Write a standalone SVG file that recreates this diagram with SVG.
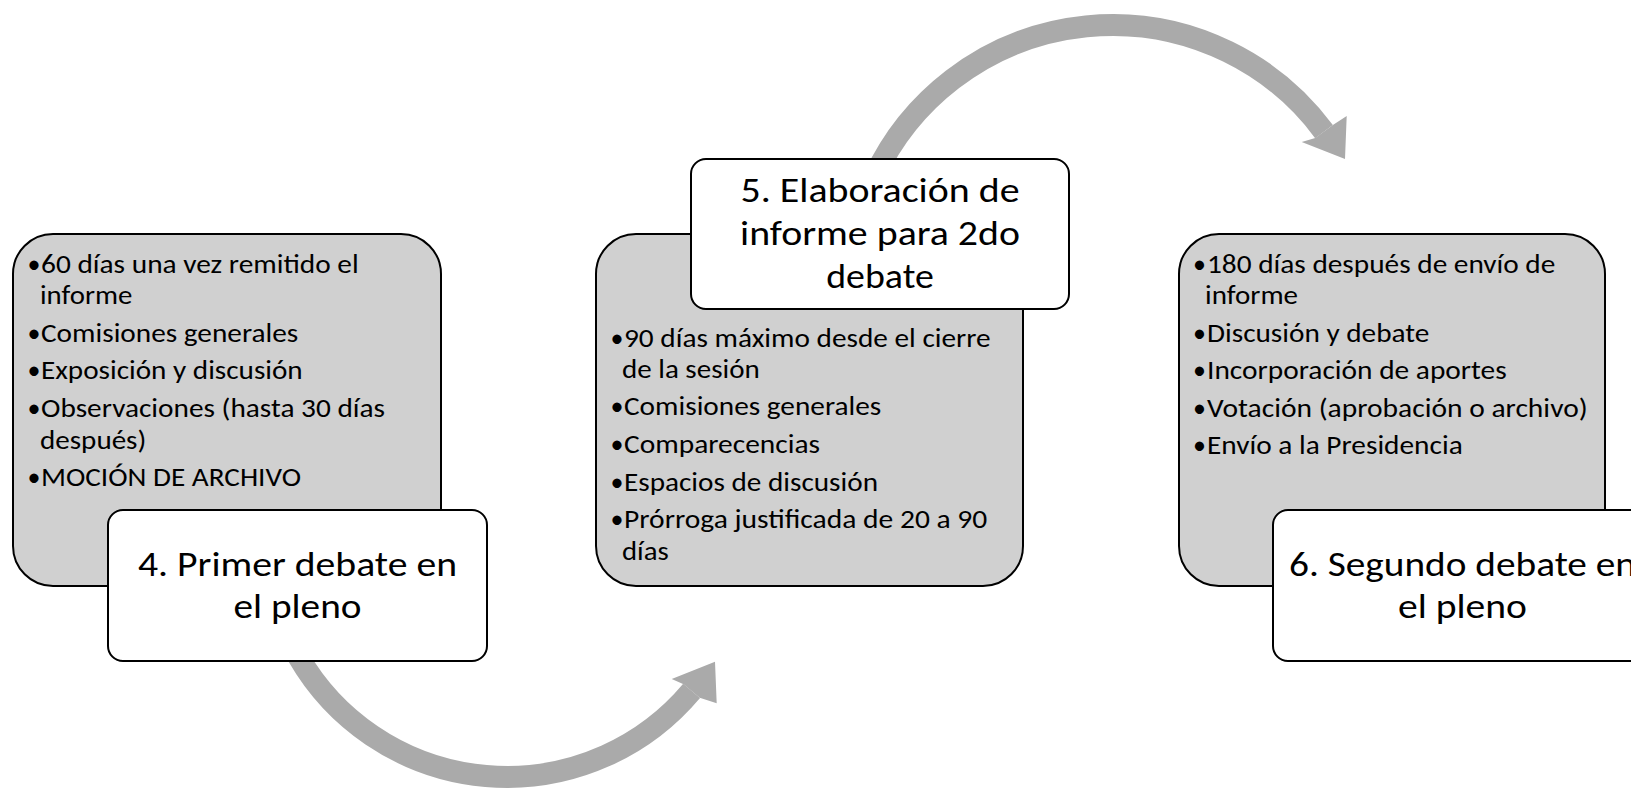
<svg xmlns="http://www.w3.org/2000/svg" width="1631" height="789" viewBox="0 0 1631 789">
<style>
.bg{fill:#FFFFFF}
.panel{fill:#D0D0D0;stroke:#000;stroke-width:2}
.label{fill:#FFFFFF;stroke:#000;stroke-width:2}
.shaft{fill:none;stroke:#AAAAAA;stroke-width:22;stroke-linecap:butt}
.head{fill:#AAAAAA;stroke:none}
.b{font-family:Carlito,Lato,"Open Sans","Liberation Sans",sans-serif;font-size:26px;fill:#000}
.dot{font-family:Carlito,Lato,"Open Sans","Liberation Sans",sans-serif;font-size:26px;fill:#000;text-anchor:middle}
.t{font-family:Carlito,Lato,"Open Sans","Liberation Sans",sans-serif;font-size:35px;fill:#000;text-anchor:middle}
</style>
<rect class="bg" x="0" y="0" width="1631" height="789"/>
<g id="connectors">
  <g id="arrow-4-5">
    <path class="shaft" d="M 298.3 656.5 A 241 241 0 0 0 691.6 690.9"/>
    <polygon class="head" points="683.6,684.2 671.7,679 715,661.7 716.7,703.3 699.7,697.7"/>
  </g>
  <g id="arrow-5-6">
    <path class="shaft" d="M 874.2 176.9 A 263 263 0 0 1 1324 131.6"/>
    <polygon class="head" points="1315.2,138.1 1301.7,142.1 1345,159 1346.7,116 1332.9,125"/>
  </g>
</g>
<g id="node-4">
  <rect class="panel" x="13" y="234" width="428" height="352" rx="40" ry="40"/>
  <text class="dot" x="34" y="272.7">•</text>
  <text class="b" x="41" y="272.7" textLength="317.7" lengthAdjust="spacingAndGlyphs">60 días una vez remitido el</text>
  <text class="b" x="40" y="304" textLength="92.3" lengthAdjust="spacingAndGlyphs">informe</text>
  <text class="dot" x="34" y="341.5">•</text>
  <text class="b" x="41" y="341.5" textLength="257.3" lengthAdjust="spacingAndGlyphs">Comisiones generales</text>
  <text class="dot" x="34" y="379">•</text>
  <text class="b" x="41" y="379" textLength="261.7" lengthAdjust="spacingAndGlyphs">Exposición y discusión</text>
  <text class="dot" x="34" y="416.7">•</text>
  <text class="b" x="41" y="416.7" textLength="344" lengthAdjust="spacingAndGlyphs">Observaciones (hasta 30 días</text>
  <text class="b" x="40" y="448.5" textLength="106.3" lengthAdjust="spacingAndGlyphs">después)</text>
  <text class="dot" x="34" y="486">•</text>
  <text class="b" x="41" y="486" textLength="260" lengthAdjust="spacingAndGlyphs">MOCIÓN DE ARCHIVO</text>
  <rect class="label" x="108" y="510" width="379" height="151" rx="15" ry="15"/>
  <text class="t" x="297.5" y="576" textLength="319" lengthAdjust="spacingAndGlyphs">4. Primer debate en</text>
  <text class="t" x="297.5" y="618.3" textLength="128" lengthAdjust="spacingAndGlyphs">el pleno</text>
</g>
<g id="node-5">
  <rect class="panel" x="596" y="234" width="427" height="352" rx="40" ry="40"/>
  <rect class="label" x="691" y="159" width="378" height="150" rx="15" ry="15"/>
  <text class="t" x="880" y="201.7" textLength="279" lengthAdjust="spacingAndGlyphs">5. Elaboración de</text>
  <text class="t" x="880" y="245" textLength="280" lengthAdjust="spacingAndGlyphs">informe para 2do</text>
  <text class="t" x="880" y="288.3" textLength="107.6" lengthAdjust="spacingAndGlyphs">debate</text>
  <text class="dot" x="617" y="346.7">•</text>
  <text class="b" x="624" y="346.7" textLength="366.7" lengthAdjust="spacingAndGlyphs">90 días máximo desde el cierre</text>
  <text class="b" x="622" y="377.5" textLength="137.7" lengthAdjust="spacingAndGlyphs">de la sesión</text>
  <text class="dot" x="617" y="415">•</text>
  <text class="b" x="624" y="415" textLength="257.3" lengthAdjust="spacingAndGlyphs">Comisiones generales</text>
  <text class="dot" x="617" y="453">•</text>
  <text class="b" x="624" y="453" textLength="196" lengthAdjust="spacingAndGlyphs">Comparecencias</text>
  <text class="dot" x="617" y="490.7">•</text>
  <text class="b" x="624" y="490.7" textLength="254" lengthAdjust="spacingAndGlyphs">Espacios de discusión</text>
  <text class="dot" x="617" y="528.3">•</text>
  <text class="b" x="624" y="528.3" textLength="363.3" lengthAdjust="spacingAndGlyphs">Prórroga justificada de 20 a 90</text>
  <text class="b" x="622" y="560" textLength="46.7" lengthAdjust="spacingAndGlyphs">días</text>
</g>
<g id="node-6">
  <rect class="panel" x="1179" y="234" width="426" height="352" rx="40" ry="40"/>
  <text class="dot" x="1199.5" y="272.7">•</text>
  <text class="b" x="1207" y="272.7" textLength="348.3" lengthAdjust="spacingAndGlyphs">180 días después de envío de</text>
  <text class="b" x="1205" y="304" textLength="93" lengthAdjust="spacingAndGlyphs">informe</text>
  <text class="dot" x="1199.5" y="341.5">•</text>
  <text class="b" x="1207" y="341.5" textLength="222.3" lengthAdjust="spacingAndGlyphs">Discusión y debate</text>
  <text class="dot" x="1199.5" y="379">•</text>
  <text class="b" x="1207" y="379" textLength="299.7" lengthAdjust="spacingAndGlyphs">Incorporación de aportes</text>
  <text class="dot" x="1199.5" y="416.7">•</text>
  <text class="b" x="1207" y="416.7" textLength="380.7" lengthAdjust="spacingAndGlyphs">Votación (aprobación o archivo)</text>
  <text class="dot" x="1199.5" y="454">•</text>
  <text class="b" x="1207" y="454" textLength="255.7" lengthAdjust="spacingAndGlyphs">Envío a la Presidencia</text>
  <rect class="label" x="1273" y="510" width="379" height="151" rx="15" ry="15"/>
  <text class="t" x="1462.5" y="576" textLength="347" lengthAdjust="spacingAndGlyphs">6. Segundo debate en</text>
  <text class="t" x="1462.5" y="618.3" textLength="129" lengthAdjust="spacingAndGlyphs">el pleno</text>
</g>
</svg>
